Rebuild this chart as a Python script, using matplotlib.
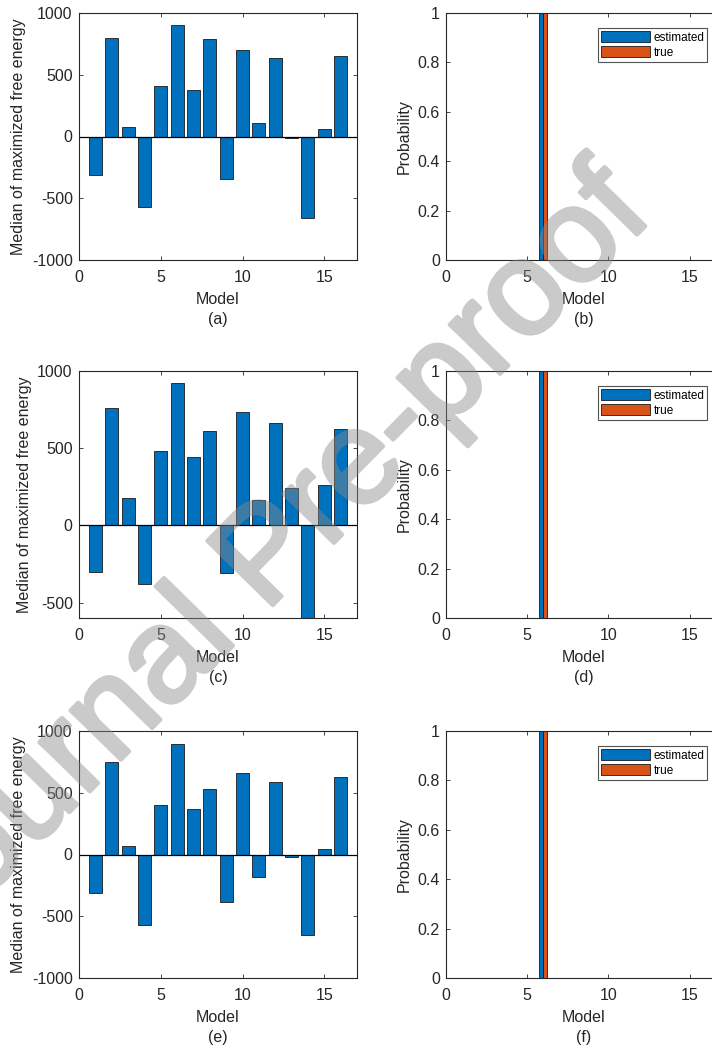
import numpy as np
import matplotlib
matplotlib.use("Agg")
import matplotlib.pyplot as plt
from matplotlib import patheffects

plt.rcParams['font.family'] = ['Liberation Sans', 'DejaVu Sans']
plt.rcParams['axes.unicode_minus'] = False

models = np.arange(1, 17)

# median of maximized free energy, panels (a), (c), (e)
energy_a = [-315, 795, 80, -570, 405, 905, 375, 788, -343, 702, 113, 634, -13, -661, 62, 648]
energy_c = [-304, 763, 177, -379, 483, 924, 442, 610, -308, 733, 164, 662, 239, -640, 259, 625]
energy_e = [-315, 748, 70, -570, 404, 893, 371, 533, -387, 659, -183, 589, -19, -651, 46, 627]

# probability of each model, panels (b), (d), (f)
prob_est = [0, 0, 0, 0, 0, 1, 0, 0, 0, 0, 0, 0, 0, 0, 0, 0]
prob_true = [0, 0, 0, 0, 0, 1, 0, 0, 0, 0, 0, 0, 0, 0, 0, 0]

left_labels = ['(a)', '(c)', '(e)']
right_labels = ['(b)', '(d)', '(f)']
left_ylims = [(-1000, 1000), (-600, 1000), (-1000, 1000)]

BLUE = '#0072BD'
ORANGE = '#D95319'
AXC = '#262626'
FS = 11.5

fig = plt.figure(figsize=(7.12, 10.56), dpi=100)
W, H = 712, 1056
rows = [(13, 260), (371, 618), (731, 978)]


def style(ax):
    for s in ax.spines.values():
        s.set_color(AXC)
        s.set_linewidth(0.8)
    ax.tick_params(direction='in', length=3, width=0.6, colors=AXC,
                   labelsize=FS, top=True, right=True)
    ax.tick_params(axis='x', pad=7)
    ax.tick_params(axis='y', pad=4.5)


for i, (top, bottom) in enumerate(rows):
    y0 = 1 - bottom / H
    h = (bottom - top) / H

    # left column: bar chart of free energy
    ax = fig.add_axes([79 / W, y0, 278 / W, h])
    data = [energy_a, energy_c, energy_e][i]
    ax.bar(models, data, width=0.8, color=BLUE, edgecolor='#1a1a1a', linewidth=0.6)
    ax.axhline(0, color='black', lw=0.9)
    ax.set_xlim(0, 17)
    ax.set_ylim(*left_ylims[i])
    ax.set_xticks([0, 5, 10, 15])
    if i == 1:
        ax.set_yticks([-500, 0, 500, 1000])
    else:
        ax.set_yticks([-1000, -500, 0, 500, 1000])
    style(ax)
    ax.set_ylabel('Median of maximized free energy', fontsize=FS, color=AXC, labelpad=4)
    ax.set_xlabel('Model\n' + left_labels[i], fontsize=FS, color=AXC, labelpad=5,
                  linespacing=1.45)

    # right column: probability of estimated vs true model
    ax2 = fig.add_axes([446 / W, y0, 276 / W, h])
    ax2.bar(models - 0.14, prob_est, width=0.26, color=BLUE, edgecolor='#1a1a1a',
            linewidth=0.6, label='estimated')
    ax2.bar(models + 0.12, prob_true, width=0.24, color=ORANGE, edgecolor='#1a1a1a',
            linewidth=0.6, label='true')
    ax2.set_xlim(0, 17)
    ax2.set_ylim(0, 1)
    ax2.set_xticks([0, 5, 10, 15])
    ax2.set_yticks([0, 0.2, 0.4, 0.6, 0.8, 1])
    ax2.set_yticklabels(['0', '0.2', '0.4', '0.6', '0.8', '1'])
    style(ax2)
    ax2.set_ylabel('Probability', fontsize=FS, color=AXC, labelpad=4)
    ax2.set_xlabel('Model\n' + right_labels[i], fontsize=FS, color=AXC, labelpad=5,
                   linespacing=1.45)
    leg = ax2.legend(loc='upper left', bbox_to_anchor=(152 / 276, 1 - 15 / 247),
                     fontsize=8.5, frameon=True, fancybox=False, handlelength=4.15,
                     handleheight=1.1, borderpad=0.25, labelspacing=0.2,
                     handletextpad=0.3, borderaxespad=0)
    leg.get_frame().set_edgecolor(AXC)
    leg.get_frame().set_linewidth(0.8)


def fade(img, dpi):
    # make the whole watermark uniformly translucent
    img = img.copy()
    img[..., 3] *= 0.45
    return img, 0, 0


# watermark
wm = fig.text(0.378, 0.470, 'Journal Pre-proof', rotation=45.5, fontsize=96,
              color='#8a8a8a', ha='center', va='center',
              rotation_mode='anchor', zorder=10)
wm.set_path_effects([patheffects.withStroke(linewidth=3, foreground='#8a8a8a')])
wm.set_agg_filter(fade)

fig.savefig('out.png', dpi=100)
